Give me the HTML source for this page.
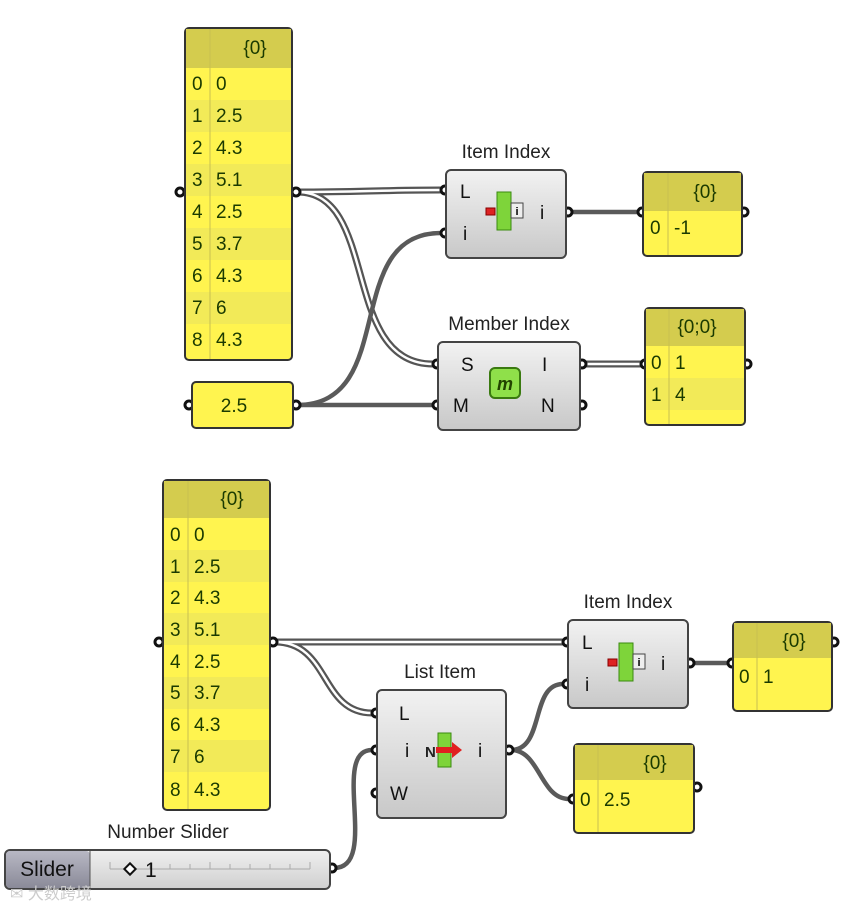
<!DOCTYPE html>
<html><head><meta charset="utf-8"><style>
body{margin:0;background:#fff;width:868px;height:909px;overflow:hidden}
svg{display:block}
text{font-family:"Liberation Sans","DejaVu Sans",sans-serif}
</style></head><body>
<svg width="868" height="909" viewBox="0 0 868 909" xmlns="http://www.w3.org/2000/svg">
<defs>
<linearGradient id="cg" x1="0" y1="0" x2="0" y2="1"><stop offset="0" stop-color="#f2f2f2"/><stop offset="1" stop-color="#c8c8c8"/></linearGradient>
<linearGradient id="sg" x1="0" y1="0" x2="0" y2="1"><stop offset="0" stop-color="#f0f0f0"/><stop offset="1" stop-color="#cfcfcf"/></linearGradient>
<linearGradient id="lg" x1="0" y1="0" x2="0" y2="1"><stop offset="0" stop-color="#b8b8c4"/><stop offset="1" stop-color="#8a8a98"/></linearGradient>
</defs>
<g fill="none" stroke-linecap="round">
<g stroke="#555" stroke-width="7">
<path d="M297,192 C360,192 380,190 441,190"/>
<path d="M297,192 C380,192 340,364 433,364"/>
<path d="M584,364 L641,364"/>
<path d="M275,642 L563,642"/>
<path d="M275,642 C330,642 320,713 372,713"/>
</g>
<g stroke="#fff" stroke-width="2.5">
<path d="M297,192 C360,192 380,190 441,190"/>
<path d="M297,192 C380,192 340,364 433,364"/>
<path d="M584,364 L641,364"/>
<path d="M275,642 L563,642"/>
<path d="M275,642 C330,642 320,713 372,713"/>
</g>
<g stroke="#5a5a5a" stroke-width="4.5">
<path d="M297,405 C400,405 340,233 441,233"/>
<path d="M297,405 L433,405"/>
<path d="M570,212 L638,212"/>
<path d="M334,868 C380,868 330,750 372,750"/>
<path d="M511,750 C545,750 530,684 563,684"/>
<path d="M511,750 C540,750 540,799 569,799"/>
<path d="M692,663 L728,663"/>
</g>
</g>

<g fill="#fff" stroke="#111" stroke-width="3">
<circle cx="180" cy="192" r="4"/><circle cx="296" cy="192" r="4"/>
<circle cx="189" cy="405" r="4"/><circle cx="296" cy="405" r="4"/>
<circle cx="445" cy="190" r="4"/><circle cx="445" cy="233" r="4"/><circle cx="568" cy="212" r="4"/>
<circle cx="642" cy="212" r="4"/><circle cx="744" cy="212" r="4"/>
<circle cx="437" cy="364" r="4"/><circle cx="437" cy="405" r="4"/><circle cx="582" cy="364" r="4"/><circle cx="582" cy="405" r="4"/>
<circle cx="645" cy="364" r="4"/><circle cx="747" cy="364" r="4"/>
<circle cx="159" cy="642" r="4"/><circle cx="273" cy="642" r="4"/>
<circle cx="567" cy="642" r="4"/><circle cx="567" cy="684" r="4"/><circle cx="690" cy="663" r="4"/>
<circle cx="732" cy="663" r="4"/><circle cx="834" cy="642" r="4"/>
<circle cx="376" cy="713" r="4"/><circle cx="376" cy="750" r="4"/><circle cx="376" cy="793" r="4"/><circle cx="509" cy="750" r="4"/>
<circle cx="573" cy="799" r="4"/><circle cx="697" cy="787" r="4"/>
<circle cx="332" cy="868" r="4"/>
</g>

<g font-size="19" fill="#1a3a00">
<rect x="185" y="28" width="107" height="332" rx="4" fill="#fff44f" stroke="#333" stroke-width="2"/>
<rect x="186" y="29" width="105" height="39" fill="#d4cc4e"/>
<rect x="186" y="100" width="105" height="32" fill="#f2ea58"/>
<rect x="186" y="164" width="105" height="32" fill="#f2ea58"/>
<rect x="186" y="228" width="105" height="32" fill="#f2ea58"/>
<rect x="186" y="292" width="105" height="32" fill="#f2ea58"/>
<line x1="210" y1="29" x2="210" y2="359" stroke="#c8c050"/>
<text x="255" y="54" text-anchor="middle">{0}</text>
<text x="192" y="90">0</text><text x="216" y="90">0</text>
<text x="192" y="122">1</text><text x="216" y="122">2.5</text>
<text x="192" y="154">2</text><text x="216" y="154">4.3</text>
<text x="192" y="186">3</text><text x="216" y="186">5.1</text>
<text x="192" y="218">4</text><text x="216" y="218">2.5</text>
<text x="192" y="250">5</text><text x="216" y="250">3.7</text>
<text x="192" y="282">6</text><text x="216" y="282">4.3</text>
<text x="192" y="314">7</text><text x="216" y="314">6</text>
<text x="192" y="346">8</text><text x="216" y="346">4.3</text>
</g>

<rect x="192" y="382" width="101" height="46" rx="4" fill="#fff44f" stroke="#333" stroke-width="2"/>
<text x="234" y="412" text-anchor="middle" font-size="19" fill="#1a3a00">2.5</text>

<text x="506" y="158" text-anchor="middle" font-size="19" fill="#222">Item Index</text>
<rect x="446" y="170" width="120" height="88" rx="5" fill="url(#cg)" stroke="#444" stroke-width="2"/>
<text x="460" y="198" font-size="19" fill="#111">L</text>
<text x="463" y="240" font-size="19" fill="#111">i</text>
<text x="540" y="219" font-size="19" fill="#111">i</text>
<rect x="497" y="192" width="14" height="38" fill="#7ed43a" stroke="#3a8a10"/>
<rect x="486" y="208" width="9" height="7" fill="#d22" stroke="#800"/>
<rect x="511" y="203" width="12" height="15" fill="#eee" stroke="#444"/>
<text x="517" y="215" font-size="11" text-anchor="middle" font-weight="bold">i</text>

<rect x="643" y="172" width="99" height="84" rx="4" fill="#fff44f" stroke="#333" stroke-width="2"/>
<rect x="644" y="173" width="97" height="38" fill="#d4cc4e"/>
<line x1="668" y1="173" x2="668" y2="255" stroke="#c8c050"/>
<text x="705" y="198" text-anchor="middle" font-size="19" fill="#1a3a00">{0}</text>
<text x="650" y="234" font-size="19" fill="#1a3a00">0</text><text x="674" y="234" font-size="19" fill="#1a3a00">-1</text>

<text x="509" y="330" text-anchor="middle" font-size="19" fill="#222">Member Index</text>
<rect x="438" y="342" width="142" height="88" rx="5" fill="url(#cg)" stroke="#444" stroke-width="2"/>
<text x="461" y="371" font-size="19" fill="#111">S</text>
<text x="453" y="412" font-size="19" fill="#111">M</text>
<text x="542" y="371" font-size="19" fill="#111">I</text>
<text x="541" y="412" font-size="19" fill="#111">N</text>
<rect x="490" y="368" width="30" height="30" rx="5" fill="#8fe04a" stroke="#3a7a10" stroke-width="2"/>
<text x="505" y="390" text-anchor="middle" font-size="18" font-style="italic" font-weight="bold" fill="#224400">m</text>

<rect x="645" y="308" width="100" height="117" rx="4" fill="#fff44f" stroke="#333" stroke-width="2"/>
<rect x="646" y="309" width="98" height="37" fill="#d4cc4e"/>
<rect x="646" y="378" width="98" height="32" fill="#f2ea58"/>
<line x1="669" y1="309" x2="669" y2="424" stroke="#c8c050"/>
<text x="697" y="333" text-anchor="middle" font-size="19" fill="#1a3a00">{0;0}</text>
<g font-size="19" fill="#1a3a00"><text x="651" y="369">0</text><text x="675" y="369">1</text>
<text x="651" y="401">1</text><text x="675" y="401">4</text></g>

<g font-size="19" fill="#1a3a00">
<rect x="163" y="480" width="107" height="330" rx="4" fill="#fff44f" stroke="#333" stroke-width="2"/>
<rect x="164" y="481" width="105" height="37" fill="#d4cc4e"/>
<rect x="164" y="550" width="105" height="32" fill="#f2ea58"/>
<rect x="164" y="613" width="105" height="32" fill="#f2ea58"/>
<rect x="164" y="677" width="105" height="32" fill="#f2ea58"/>
<rect x="164" y="740" width="105" height="32" fill="#f2ea58"/>
<line x1="188" y1="481" x2="188" y2="809" stroke="#c8c050"/>
<text x="232" y="505" text-anchor="middle">{0}</text>
<text x="170" y="541">0</text><text x="194" y="541">0</text>
<text x="170" y="573">1</text><text x="194" y="573">2.5</text>
<text x="170" y="604">2</text><text x="194" y="604">4.3</text>
<text x="170" y="636">3</text><text x="194" y="636">5.1</text>
<text x="170" y="668">4</text><text x="194" y="668">2.5</text>
<text x="170" y="699">5</text><text x="194" y="699">3.7</text>
<text x="170" y="731">6</text><text x="194" y="731">4.3</text>
<text x="170" y="763">7</text><text x="194" y="763">6</text>
<text x="170" y="796">8</text><text x="194" y="796">4.3</text>
</g>

<text x="628" y="608" text-anchor="middle" font-size="19" fill="#222">Item Index</text>
<rect x="568" y="620" width="120" height="88" rx="5" fill="url(#cg)" stroke="#444" stroke-width="2"/>
<text x="582" y="649" font-size="19" fill="#111">L</text>
<text x="585" y="691" font-size="19" fill="#111">i</text>
<text x="661" y="670" font-size="19" fill="#111">i</text>
<rect x="619" y="643" width="14" height="38" fill="#7ed43a" stroke="#3a8a10"/>
<rect x="608" y="659" width="9" height="7" fill="#d22" stroke="#800"/>
<rect x="633" y="654" width="12" height="15" fill="#eee" stroke="#444"/>
<text x="639" y="666" font-size="11" text-anchor="middle" font-weight="bold">i</text>

<rect x="733" y="622" width="99" height="89" rx="4" fill="#fff44f" stroke="#333" stroke-width="2"/>
<rect x="734" y="623" width="97" height="35" fill="#d4cc4e"/>
<line x1="757" y1="623" x2="757" y2="710" stroke="#c8c050"/>
<text x="794" y="647" text-anchor="middle" font-size="19" fill="#1a3a00">{0}</text>
<text x="739" y="683" font-size="19" fill="#1a3a00">0</text><text x="763" y="683" font-size="19" fill="#1a3a00">1</text>

<text x="440" y="678" text-anchor="middle" font-size="19" fill="#222">List Item</text>
<rect x="377" y="690" width="129" height="128" rx="5" fill="url(#cg)" stroke="#444" stroke-width="2"/>
<text x="399" y="720" font-size="19" fill="#111">L</text>
<text x="405" y="757" font-size="19" fill="#111">i</text>
<text x="390" y="800" font-size="19" fill="#111">W</text>
<text x="478" y="757" font-size="19" fill="#111">i</text>
<text x="425" y="757" font-size="15" font-weight="bold" fill="#222">N</text>
<rect x="438" y="733" width="13" height="34" fill="#7ed43a" stroke="#3a8a10"/>
<path d="M436,747 h16 v-5 l10,8 l-10,8 v-5 h-16z" fill="#e02020"/>

<rect x="574" y="744" width="120" height="89" rx="4" fill="#fff44f" stroke="#333" stroke-width="2"/>
<rect x="575" y="745" width="118" height="35" fill="#d4cc4e"/>
<line x1="598" y1="745" x2="598" y2="832" stroke="#c8c050"/>
<text x="655" y="769" text-anchor="middle" font-size="19" fill="#1a3a00">{0}</text>
<text x="580" y="806" font-size="19" fill="#1a3a00">0</text><text x="604" y="806" font-size="19" fill="#1a3a00">2.5</text>

<text x="168" y="838" text-anchor="middle" font-size="19" fill="#222">Number Slider</text>
<rect x="5" y="850" width="325" height="39" rx="5" fill="url(#sg)" stroke="#444" stroke-width="2"/>
<rect x="6" y="851" width="84" height="37" rx="4" fill="url(#lg)"/>
<line x1="90" y1="851" x2="90" y2="888" stroke="#555"/>
<text x="47" y="876" text-anchor="middle" font-size="21" fill="#111">Slider</text>
<g stroke="#aaa" stroke-width="1">
<line x1="110" y1="869" x2="310" y2="869"/>
<line x1="110" y1="862" x2="110" y2="869"/><line x1="150" y1="864" x2="150" y2="869"/><line x1="170" y1="864" x2="170" y2="869"/><line x1="190" y1="864" x2="190" y2="869"/><line x1="210" y1="862" x2="210" y2="869"/><line x1="230" y1="864" x2="230" y2="869"/><line x1="250" y1="864" x2="250" y2="869"/><line x1="270" y1="864" x2="270" y2="869"/><line x1="290" y1="864" x2="290" y2="869"/><line x1="310" y1="862" x2="310" y2="869"/>
</g>
<rect x="126" y="865" width="8" height="8" transform="rotate(45 130 869)" fill="#fff" stroke="#111" stroke-width="2"/>
<text x="145" y="877" font-size="21" fill="#111">1</text>
<text x="10" y="899" font-size="16" fill="#ccc" font-family="'Liberation Sans','Noto Sans CJK SC',sans-serif">✉ 大数跨境</text>
</svg>
</body></html>
